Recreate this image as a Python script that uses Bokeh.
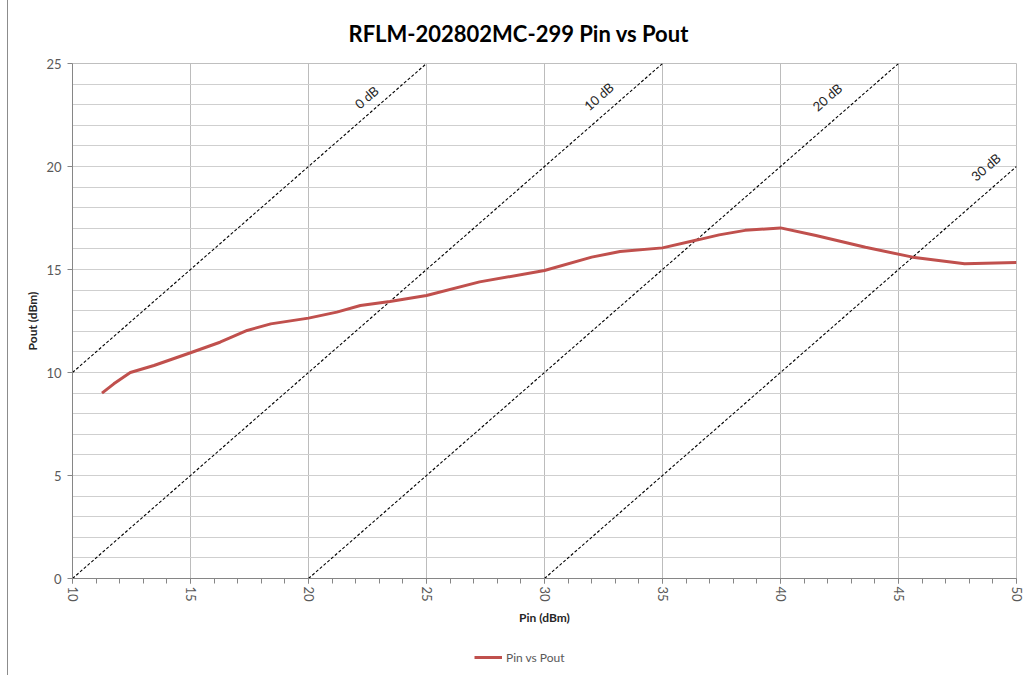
import math
from bokeh.plotting import figure
from bokeh.layouts import column
from bokeh.models import Legend, LegendItem, SingleIntervalTicker, FixedTicker, Range1d, ColumnDataSource
from bokeh.core.properties import value
from bokeh.embed import file_html
from bokeh.resources import INLINE

pin = [11.25, 11.75, 12.45, 13.45, 15.0, 16.25, 17.4, 18.4, 20.0, 21.2, 22.2, 23.45, 25.0, 27.25,
       30.0, 32.0, 33.2, 35.0, 36.5, 37.4, 38.5, 40.0, 41.5, 43.6, 45.6, 47.8, 50.0]
pout = [9.0, 9.45, 10.0, 10.34, 10.96, 11.47, 12.04, 12.36, 12.64, 12.93, 13.25, 13.45, 13.74, 14.4,
        14.95, 15.6, 15.87, 16.05, 16.44, 16.68, 16.9, 17.02, 16.65, 16.08, 15.6, 15.28, 15.34]

# Reference attenuation lines: Pout = Pin - loss
ref_loss = [0, 10, 20, 30]
ref_labels = ["0 dB", "10 dB", "20 dB", "30 dB"]
label_x = [22.46, 32.3, 41.98, 48.7]
label_y = [23.36, 23.4, 23.36, 19.97]

x_ticks = [10, 15, 20, 25, 30, 35, 40, 45, 50]
y_ticks = [0, 5, 10, 15, 20, 25]
x_min, x_max = 10, 50
y_min, y_max = 0, 25

FONT = "Lato"
GRAY_TXT = "#595959"
CURVE_COLOR = "#c0504d"

curve_src = ColumnDataSource(dict(pin=pin, pout=pout))

p = figure(width=1015, height=640, output_backend="svg", toolbar_location=None,
           x_range=Range1d(x_min, x_max), y_range=Range1d(y_min, y_max),
           min_border_left=64, min_border_right=7, min_border_top=63, min_border_bottom=62,
           title="RFLM-202802MC-299 Pin vs Pout")

p.title.align = "left"
p.title.offset = 276
p.title.standoff = 34
p.title.text_font = FONT
p.title.text_font_size = "22px"
p.title.text_font_style = "bold"
p.title.text_color = "#000000"

p.outline_line_color = "#bfbfbf"
p.background_fill_color = "white"
p.border_fill_color = "white"

# Grids
p.xgrid.ticker = FixedTicker(ticks=x_ticks)
p.xgrid.grid_line_color = "#bcbcbc"
p.ygrid.ticker = SingleIntervalTicker(interval=1)
p.ygrid.grid_line_color = "#cfcfcf"

# Axes
p.xaxis.ticker = SingleIntervalTicker(interval=5, num_minor_ticks=5)
p.yaxis.ticker = FixedTicker(ticks=y_ticks)
for ax in (p.xaxis[0], p.yaxis[0]):
    ax.axis_line_color = "#868686"
    ax.major_tick_line_color = "#868686"
    ax.major_tick_out = 5
    ax.major_tick_in = 0
    ax.major_label_text_font = FONT
    ax.major_label_text_font_size = "13px"
    ax.major_label_text_color = GRAY_TXT
    ax.axis_label_text_font = FONT
    ax.axis_label_text_font_size = "12px"
    ax.axis_label_text_font_style = "bold"
    ax.axis_label_text_color = "#262626"
p.xaxis.minor_tick_line_color = "#868686"
p.xaxis.minor_tick_out = 5
p.xaxis.minor_tick_in = 0
p.yaxis.minor_tick_line_color = None
p.xaxis.major_label_orientation = -math.pi / 2
p.xaxis.major_label_standoff = 3
p.yaxis.major_label_standoff = 6
p.xaxis.axis_label = "Pin (dBm)"
p.yaxis.axis_label = "Pout (dBm)"
p.xaxis.axis_label_standoff = 5
p.yaxis.axis_label_standoff = 3

# Reference lines
for loss in ref_loss:
    x0 = max(x_min, y_min + loss)
    x1 = min(x_max, y_max + loss)
    p.line([x0, x1], [x0 - loss, x1 - loss], line_color="black", line_width=1.1, line_dash="3 2")

ang = math.atan((515.0 / 25) / (944.0 / 40))
lab_src = ColumnDataSource(dict(x=label_x, y=label_y, t=ref_labels))
p.text(x="x", y="y", text="t", source=lab_src, angle=ang, text_align="center",
       text_baseline="middle", text_font=value(FONT), text_font_size="13px", text_color="#262626")

# Measured curve
r = p.line(x="pin", y="pout", source=curve_src, line_color=CURVE_COLOR, line_width=3)

# Legend strip below the chart (same series; its ranges keep the line itself out of view)
lf = figure(width=1015, height=35, output_backend="svg", toolbar_location=None,
            x_range=Range1d(0, 1), y_range=Range1d(0, 1), min_border=0,
            x_axis_location=None, y_axis_location=None)
lf.grid.visible = False
lf.outline_line_color = None
lr = lf.line(x="pin", y="pout", source=curve_src, line_color=CURVE_COLOR, line_width=3)
legend = Legend(items=[LegendItem(label="Pin vs Pout", renderers=[lr])],
                location=(402, 10), orientation="horizontal",
                padding=0, margin=0, spacing=0, glyph_width=28, glyph_height=16,
                label_height=16, label_standoff=4,
                label_text_font=FONT, label_text_font_size="12px", label_text_color=GRAY_TXT,
                background_fill_alpha=0, border_line_color=None)
lf.add_layout(legend, "center")

layout = column(p, lf, spacing=0)
layout.styles = {"margin-left": "7px", "border-left": "1px solid #8c8c8c"}
open("out.html", "w").write(file_html(layout, INLINE))
